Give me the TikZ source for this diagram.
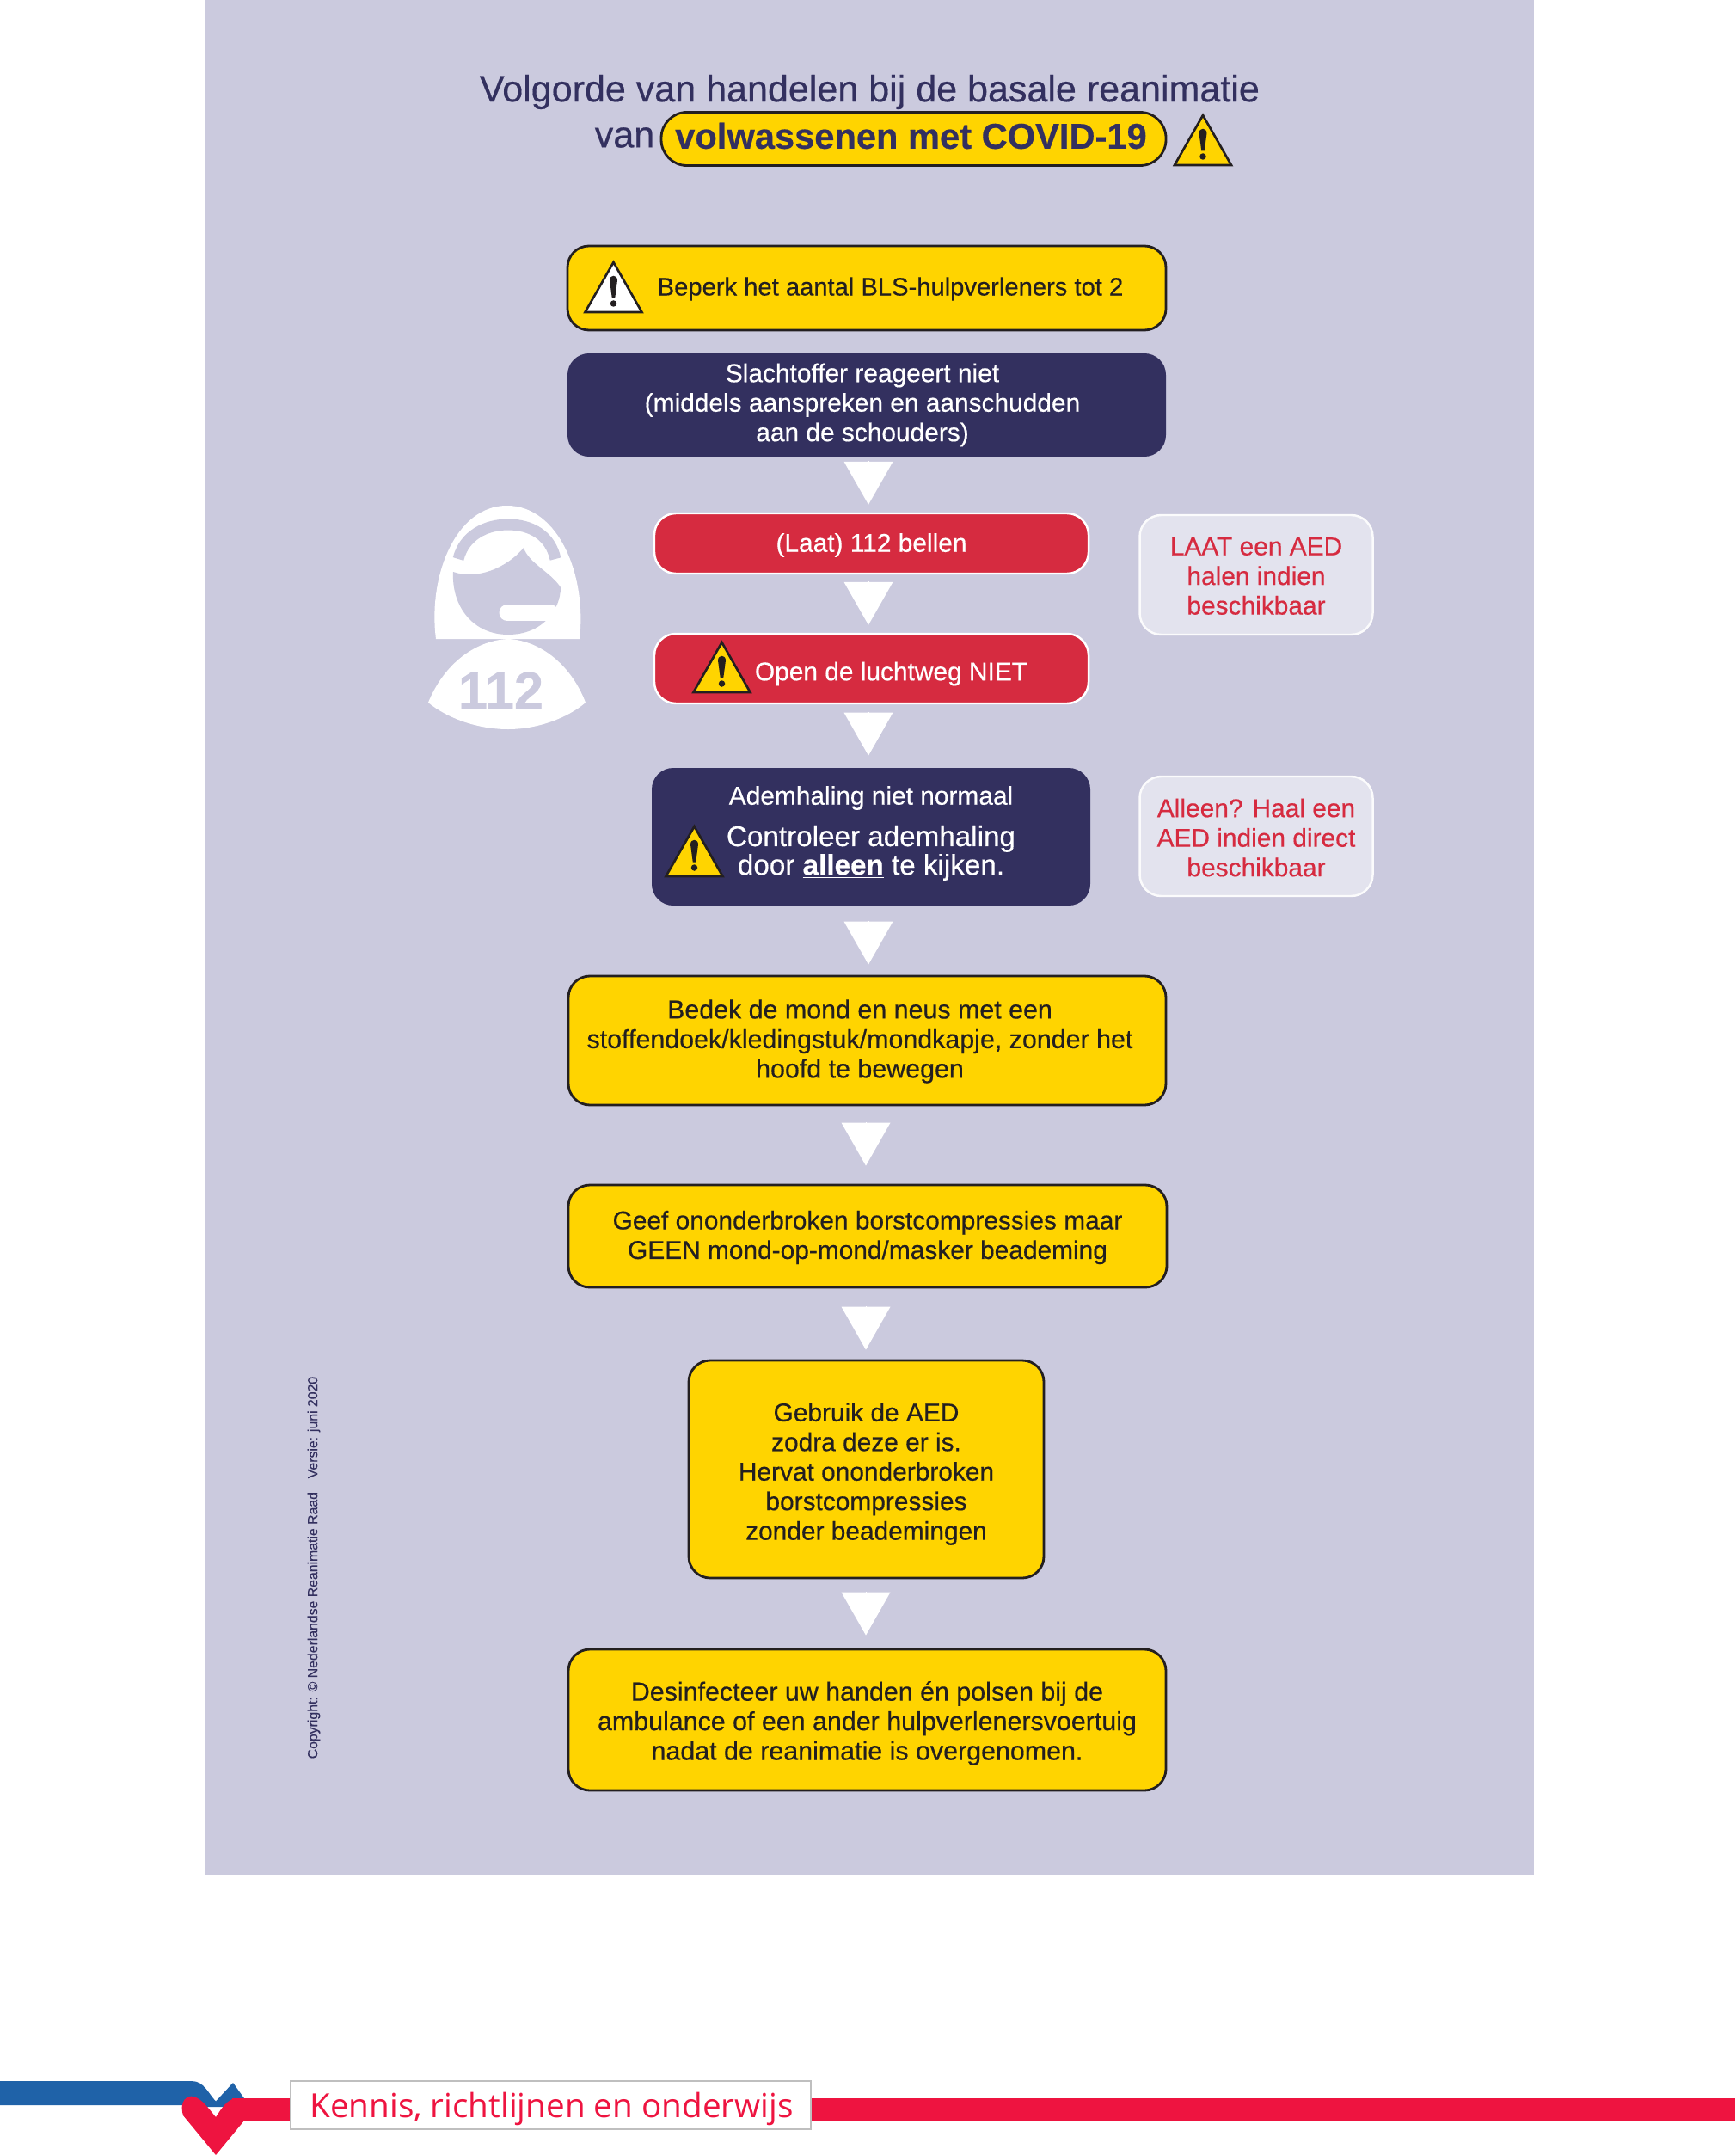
\documentclass[tikz,border=0pt]{standalone}
\usepackage{fontspec}
\setmainfont[FakeBold=0.4]{Liberation Sans}
\newfontfamily\slogan{Open Sans}
\usetikzlibrary{arrows.meta}
\definecolor{achter}{HTML}{CBCADE}
\definecolor{navy}{HTML}{33305F}
\definecolor{geel}{HTML}{FFD400}
\definecolor{rood}{HTML}{D62B40}
\definecolor{zij}{HTML}{E3E3EE}
\definecolor{lijn}{HTML}{231F20}
\definecolor{blauw}{HTML}{1F62A8}
\definecolor{hart}{HTML}{EE1440}
\begin{document}
\begin{tikzpicture}[font=\fontsize{17}{19.6}\selectfont,
            tekst/.style={align=center, inner sep=0pt},
            bg/.style={draw=lijn, line width=1.6pt, fill=geel, rounded corners=0.5cm, align=center, inner sep=0pt, text=lijn},
            bn/.style={fill=navy, rounded corners=0.5cm, align=center, inner sep=0pt, text=white},
            br/.style={draw=white, line width=1.4pt, fill=rood, rounded corners=0.5cm, align=center, inner sep=0pt, text=white},
            bz/.style={draw=white!92!achter, line width=1.4pt, fill=zij, rounded corners=0.5cm, align=center, inner sep=0pt, text=rood, minimum width=5.42cm, minimum height=2.78cm},
            pijl/.style={white, line width=0pt, -{Triangle[length=1cm, width=1.14cm]}},
            pics/letop/.style={code={
                \draw[draw=lijn, line width=1.5pt, fill=#1, miter limit=10] (-0.66,0) -- (0.66,0) -- (0,1.16) -- cycle;
                \fill[lijn] (-0.09,0.74) .. controls (-0.09,0.88) and (0.09,0.88) .. (0.09,0.74) -- (0.035,0.33) -- (-0.035,0.33) -- cycle;
                \fill[lijn] (0,0.2) circle (0.075);
            }}]
            \useasboundingbox (0,0) rectangle (40.36,-50.12);
            \fill[achter] (4.76,0) rectangle (35.68,-43.6);

            \node[tekst, text=navy, font=\fontsize{24.5}{26}\selectfont] (titel) at (20.23,-2.14) {Volgorde van handelen bij de basale reanimatie};
            \node[tekst, text=navy, font=\fontsize{24.5}{26}\selectfont] (van) at (14.53,-3.2) {van};
            \node[draw=lijn, line width=1.6pt, fill=geel, rounded corners=0.6cm, minimum width=11.74cm, minimum height=1.24cm, inner sep=0pt] (pil) at (21.25,-3.23) {};
            \node[tekst, text=navy, font=\fontsize{23.7}{26}\selectfont\bfseries] (piltxt) at (21.19,-3.16) {volwassenen met COVID-19};
            \pic at (27.98,-3.84) {letop=geel};

            \node[bg, minimum width=13.92cm, minimum height=1.96cm] (beperk) at (20.16,-6.70) {};
            \node[tekst, text=lijn, font=\fontsize{16.6}{19.6}\selectfont] (beperktxt) at (20.71,-6.72) {Beperk het aantal BLS-hulpverleners tot 2};
            \pic at (14.27,-7.26) {letop=white};
            \node[bn, minimum width=13.92cm, minimum height=2.4cm] (slacht) at (20.16,-9.42) {};
            \node[tekst, text=white] (slachttxt) at (20.06,-9.42) {Slachtoffer reageert niet\\(middels aanspreken en aanschudden\\aan de schouders)};
            \node[br, minimum width=10.1cm, minimum height=1.4cm] (bellen) at (20.27,-12.64) {};
            \node[tekst, text=white] (bellentxt) at (20.27,-12.68) {(Laat) 112 bellen};
            \node[br, minimum width=10.1cm, minimum height=1.62cm] (lucht) at (20.27,-15.55) {};
            \node[tekst, text=white] (luchttxt) at (20.73,-15.67) {Open de luchtweg NIET};
            \pic at (16.79,-16.10) {letop=geel};
            \node[bn, minimum width=10.2cm, minimum height=3.2cm] (adem) at (20.26,-19.46) {};
            \node[tekst, text=white] (ademtxt) at (20.26,-18.56) {Ademhaling niet normaal};
            \node[tekst, text=white, font=\fontsize{18.9}{18.9}\selectfont] (controle) at (20.26,-19.84) {Controleer ademhaling\\door \underline{\textbf{alleen}} te kijken.};
            \pic at (16.15,-20.38) {letop=geel};
            \node[bz] (aedeen) at (29.22,-13.37) {};
            \node[tekst, text=rood] (aedeentxt) at (29.22,-13.4) {LAAT een AED\\halen indien\\beschikbaar};
            \node[bz] (aedtwee) at (29.22,-19.45) {};
            \node[tekst, text=rood] (aedtweetxt) at (29.22,-19.48) {Alleen? Haal een\\AED indien direct\\beschikbaar};
            \node[bg, minimum width=13.9cm, minimum height=3cm] (bedek) at (20.17,-24.2) {};
            \node[tekst, text=lijn, font=\fontsize{17.3}{19.6}\selectfont] (bedektxt) at (20.0,-24.22) {Bedek de mond en neus met een\\stoffendoek/kledingstuk/mondkapje, zonder het\\hoofd te bewegen};
            \node[bg, minimum width=13.92cm, minimum height=2.38cm] (geef) at (20.18,-28.75) {};
            \node[tekst, text=lijn] (geeftxt) at (20.18,-28.78) {Geef ononderbroken borstcompressies maar\\GEEN mond-op-mond/masker beademing};
            \node[bg, minimum width=8.26cm, minimum height=5.06cm] (gebruik) at (20.15,-34.17) {};
            \node[tekst, text=lijn] (gebruiktxt) at (20.15,-34.28) {Gebruik de AED\\zodra deze er is.\\Hervat ononderbroken\\borstcompressies\\zonder beademingen};
            \node[bg, minimum width=13.9cm, minimum height=3.28cm] (desinf) at (20.17,-40) {};
            \node[tekst, text=lijn, font=\fontsize{17.3}{19.6}\selectfont] (desinftxt) at (20.17,-40.08) {Desinfecteer uw handen én polsen bij de\\ambulance of een ander hulpverlenersvoertuig\\nadat de reanimatie is overgenomen.};

            \foreach \a/\e/\x/\s/\v in {slacht/bellen/20.2/0.18/0.16, bellen/lucht/20.2/0.18/0.24, lucht/adem/20.2/0.28/0.24, adem/bedek/20.2/0.24/0.42,
                bedek/geef/20.14/0.42/0.46, geef/gebruik/20.14/0.22/0.5, gebruik/desinf/20.14/0.3/0.38}
                \draw[pijl, shorten >=\s cm, shorten <=\v cm] (\a.south -| \x,0) -- (\e.north -| \x,0);

            \fill[white] (10.14,-14.86) .. controls (9.95,-13.4) and (10.6,-11.76) .. (11.79,-11.76)
                .. controls (13.0,-11.76) and (13.65,-13.4) .. (13.48,-14.86) -- cycle;
            \fill[achter] (10.54,-13.3) .. controls (11.1,-13.5) and (11.8,-13.2) .. (12.18,-12.74)
                .. controls (12.3,-13.1) and (12.8,-13.3) .. (13.04,-13.66)
                .. controls (13.04,-14.2) and (12.6,-14.76) .. (11.82,-14.76)
                .. controls (11.0,-14.76) and (10.5,-14.1) .. (10.54,-13.3) -- cycle;
            \draw[achter, line width=0.26cm] (10.66,-13.0) .. controls (10.8,-12.45) and (11.3,-12.2) .. (11.82,-12.2)
                .. controls (12.35,-12.2) and (12.8,-12.45) .. (12.92,-13.0);
            \draw[white, line width=0.38cm, line cap=round] (11.8,-14.25) -- (12.8,-14.25);
            \fill[white] (11.82,-14.86) .. controls (12.6,-14.9) and (13.3,-15.5) .. (13.62,-16.34)
                .. controls (13.2,-16.7) and (12.5,-16.96) .. (11.82,-16.96)
                .. controls (11.1,-16.96) and (10.4,-16.7) .. (9.96,-16.34)
                .. controls (10.3,-15.5) and (11.0,-14.9) .. (11.82,-14.86) -- cycle;
            \node[tekst, text=achter, font=\fontsize{35}{35}\selectfont\bfseries] (nummer) at (11.65,-16.06) {112};

            \node[tekst, text=navy, rotate=90, font=\fontsize{9}{10}\selectfont] (copy) at (7.3,-36.46) {Copyright: © Nederlandse Reanimatie Raad\quad Versie: juni 2020};

            \fill[blauw] (0,-48.4) -- (4.46,-48.4) .. controls (4.75,-48.4) and (4.85,-48.7) .. (5.02,-48.87) -- (5.42,-48.44) -- (5.68,-48.8) -- (5.68,-49.0) -- (4.24,-49.0) -- (4.24,-48.96) -- (0,-48.96) -- cycle;
            \fill[hart] (5.4,-48.8) rectangle (40.36,-49.32);
            \fill[hart] (5.02,-50.12) -- (4.26,-49.2) .. controls (4.16,-48.85) and (4.36,-48.72) .. (4.5,-48.76)
                .. controls (4.7,-48.8) and (4.9,-49.1) .. (5.02,-49.24)
                .. controls (5.14,-49.05) and (5.3,-48.8) .. (5.5,-48.8) -- (5.68,-49.32) -- cycle;
            \node[draw=black!25, line width=1.2pt, fill=white, minimum width=12.1cm, minimum height=1.12cm, inner sep=0pt] (kennis) at (12.81,-48.96) {};
            \node[tekst, text=hart, font=\slogan\fontsize{22}{26}\selectfont] (kennistxt) at (12.83,-49.05) {Kennis, richtlijnen en onderwijs};
\end{tikzpicture}
\end{document}
